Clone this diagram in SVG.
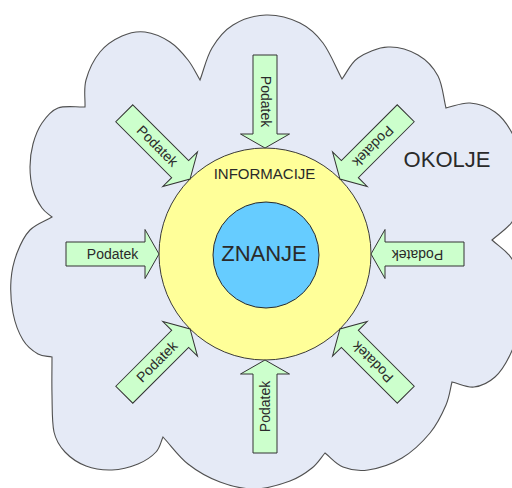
<svg xmlns="http://www.w3.org/2000/svg" xmlns:xlink="http://www.w3.org/1999/xlink" width="512" height="488" viewBox="0 0 512 488">
  <style>
    .cloud { fill: #E5EAF6; stroke: #505050; stroke-width: 1.1; }
    .ring { fill: #FFFF99; stroke: #3a3a3a; stroke-width: 1; }
    .core { fill: #66CCFF; stroke: #2a2a2a; stroke-width: 1; }
    .arrow { fill: #CCFFCC; stroke: #333333; stroke-width: 1; stroke-linejoin: miter; }
    .lbl { font-family: "Liberation Sans", Arial, sans-serif; fill: #2a2a2a; text-anchor: middle; }
    .arrow-lbl { font-size: 14px; }
  </style>
  <defs>
    <!-- block arrow pointing along +x, tip at the origin -->
    <path id="block-arrow" class="arrow" d="M-93,-12 H-14 V-24.5 L0,0 L-14,24.5 V12 H-93 Z"/>
  </defs>

  <g id="okolje">
    <path class="cloud" d="M85,107
      C85.33,98 83.5,89.17 86,80 C88.5,70.83 94,59.33 100,52 C106,44.67 114.5,39.33 122,36 C129.5,32.67 137,31 145,32 C153,33 162.83,37.33 170,42 C177.17,46.67 183,53.67 188,60 C193,66.33 196,73.33 200,80
      C204,69.33 206.5,57.17 212,48 C217.5,38.83 224,30.5 233,25 C242,19.5 254.83,15.33 266,15 C277.17,14.67 290.5,18.33 300,23 C309.5,27.67 316,33.67 323,43 C330,52.33 335.67,67 342,79
      C347.33,72 350.33,63.33 358,58 C365.67,52.67 378,47.5 388,47 C398,46.5 409.67,50.17 418,55 C426.33,59.83 433.33,67.17 438,76 C442.67,84.83 443.33,97.33 446,108
      C454,106.33 461.83,102.33 470,103 C478.17,103.67 488,107 495,112 C502,117 507.33,124.17 512,133 C516.67,141.83 521.33,154.17 523,165 C524.67,175.83 523.83,188.5 522,198 C520.17,207.5 517,215 512,222 C507,229 498.67,234 492,240
      C498.67,246.33 507,250.67 512,259 C517,267.33 520.67,279 522,290 C523.33,301 522,314.17 520,325 C518,335.83 514.17,346.33 510,355 C505.83,363.67 501,371.67 495,377 C489,382.33 481.17,386.17 474,387 C466.83,387.83 459.33,383.67 452,382
      C450,389.67 449.67,396.5 446,405 C442.33,413.5 437.33,424.17 430,433 C422.67,441.83 412.33,451.83 402,458 C391.67,464.17 377.83,468.5 368,470 C358.17,471.5 350.17,469.83 343,467 C335.83,464.17 331,457.67 325,453
      C320.67,458 317.83,463.33 312,468 C306.17,472.67 299.5,477.5 290,481 C280.5,484.5 266.67,488.83 255,489 C243.33,489.17 231.17,486.17 220,482 C208.83,477.83 197.5,471.5 188,464 C178.5,456.5 171.33,446 163,437
      C160.67,442 160.17,447.5 156,452 C151.83,456.5 145.33,461 138,464 C130.67,467 120.67,469.67 112,470 C103.33,470.33 93.83,469 86,466 C78.17,463 70.33,457.67 65,452 C59.67,446.33 56.17,441.5 54,432 C51.83,422.5 52.33,407.5 52,395 C51.67,382.5 52,369.67 52,357
      C47.33,356 42.83,356.83 38,354 C33.17,351.17 27.17,346.83 23,340 C18.83,333.17 15,323 13,313 C11,303 10.33,290 11,280 C11.67,270 13.83,261.33 17,253 C20.17,244.67 24.17,236 30,230 C35.83,224 44.67,221.33 52,217
      C48.67,214 45.17,212.5 42,208 C38.83,203.5 35,196.83 33,190 C31,183.17 30,174.67 30,167 C30,159.33 31,151.33 33,144 C35,136.67 37.83,129 42,123 C46.17,117 50.83,110.67 58,108 C65.17,105.33 76,107.33 85,107 Z"/>
    <text class="lbl" x="447" y="167" font-size="22">OKOLJE</text>
  </g>

  <g id="informacije">
    <circle class="ring" cx="265" cy="254" r="106"/>
    <text class="lbl" x="264.5" y="179" font-size="15">INFORMACIJE</text>
  </g>

  <g id="znanje">
    <circle class="core" cx="266" cy="255" r="53"/>
    <text class="lbl" x="264" y="261" font-size="22">ZNANJE</text>
  </g>

  <!-- eight data arrows pointing at the centre, tips on the outer ring -->
  <g id="connectors">
    <g id="podatek-w" transform="translate(265,254) rotate(0) translate(-106,0)">
      <use xlink:href="#block-arrow"/>
      <text class="lbl arrow-lbl" x="-46.5" y="4.5">Podatek</text>
    </g>
    <g id="podatek-nw" transform="translate(265,254) rotate(45) translate(-106,0)">
      <use xlink:href="#block-arrow"/>
      <text class="lbl arrow-lbl" x="-46.5" y="4.5">Podatek</text>
    </g>
    <g id="podatek-n" transform="translate(265,254) rotate(90) translate(-106,0)">
      <use xlink:href="#block-arrow"/>
      <text class="lbl arrow-lbl" x="-46.5" y="4.5">Podatek</text>
    </g>
    <g id="podatek-ne" transform="translate(265,254) rotate(135) translate(-106,0)">
      <use xlink:href="#block-arrow"/>
      <text class="lbl arrow-lbl" x="-46.5" y="4.5">Podatek</text>
    </g>
    <g id="podatek-e" transform="translate(265,254) rotate(180) translate(-106,0)">
      <use xlink:href="#block-arrow"/>
      <text class="lbl arrow-lbl" x="-46.5" y="4.5">Podatek</text>
    </g>
    <g id="podatek-se" transform="translate(265,254) rotate(225) translate(-106,0)">
      <use xlink:href="#block-arrow"/>
      <text class="lbl arrow-lbl" x="-46.5" y="4.5">Podatek</text>
    </g>
    <g id="podatek-s" transform="translate(265,254) rotate(270) translate(-106,0)">
      <use xlink:href="#block-arrow"/>
      <text class="lbl arrow-lbl" x="-46.5" y="4.5">Podatek</text>
    </g>
    <g id="podatek-sw" transform="translate(265,254) rotate(315) translate(-106,0)">
      <use xlink:href="#block-arrow"/>
      <text class="lbl arrow-lbl" x="-46.5" y="4.5">Podatek</text>
    </g>
  </g>
</svg>
